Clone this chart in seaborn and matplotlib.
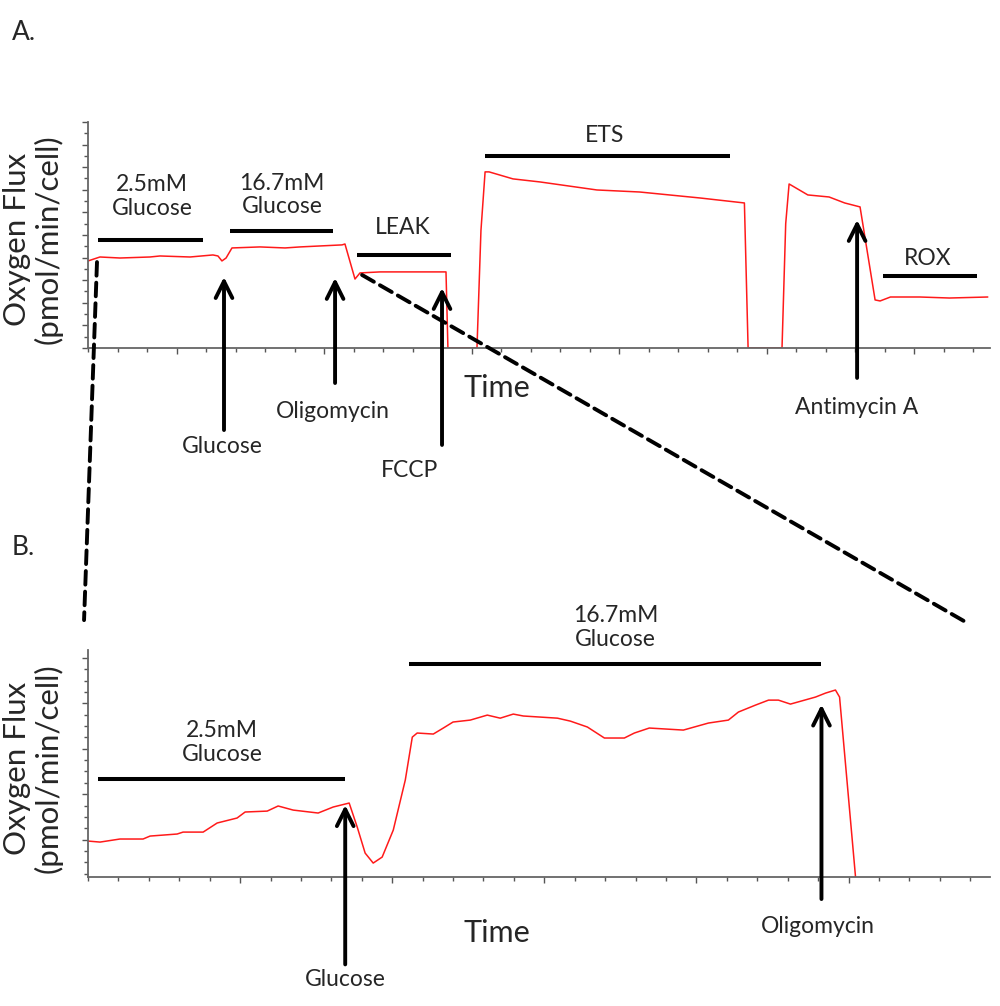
import numpy as np
import pandas as pd
import seaborn as sns
import matplotlib.pyplot as plt
from matplotlib.patches import ConnectionPatch
from matplotlib.ticker import FixedLocator, MultipleLocator

# Panel A trace (time in min, oxygen flux in arbitrary units)
a_time = [0.0, 0.81, 2.17, 4.2, 4.88, 6.92, 8.47, 8.81, 9.08, 9.36, 9.76, 11.66, 13.36,
          14.37, 17.22, 17.42, 18.1, 18.44, 19.8, 22.5, 24.27, 24.4, 26.37, 26.64, 26.92,
          27.19, 28.81, 30.64, 34.5, 37.4, 41.5, 44.5, 44.75, 47.05, 47.3, 47.53, 48.8,
          50.24, 51.3, 52.34, 53.36, 53.7, 54.4, 56.4, 58.4, 61.0]
a_flux = [77, 80.5, 79.6, 80.5, 81.4, 80.5, 82.3, 81.4, 77, 79.6, 88.5, 89.4, 88.5,
          89.4, 91.2, 92, 61, 66.4, 67.3, 67.3, 67.3, 0, 0, 104, 155.8,
          155.8, 149.6, 146.9, 139.8, 138, 132.7, 128.3, 0, 0, 110, 145.1, 135.4,
          133.6, 128.3, 124.8, 42.5, 41.6, 45.1, 45.1, 44.2, 45.1]

# Panel B trace
b_time = [0, 0.79, 2.1, 3.62, 4.08, 5.86, 6.25, 7.57, 8.49, 9.8, 10.33, 11.78, 12.5,
          13.49, 15.13, 16.12, 17.17, 17.7, 18.22, 18.75, 19.34, 20.07, 20.86, 21.32,
          21.64, 22.7, 23.36, 24.0, 25.13, 26.25, 27.1, 27.96, 28.62, 30.86, 31.71,
          32.83, 33.95, 35.26, 35.92, 36.9, 39.14, 40.79, 42.1, 42.76, 43.88, 44.74,
          45.39, 46.18, 47.83, 48.49, 49.14, 49.41, 50.46]
b_flux = [31.7, 30.8, 33.5, 33.5, 36.1, 37.9, 39.6, 39.6, 47.6, 52, 57.3, 58.1, 62.6,
          59, 56.4, 61.7, 65.2, 44, 21.1, 12.3, 17.6, 41.4, 85.5, 123.3,
          126.9, 126, 131.3, 136.6, 138.3, 142.7, 140, 143.6, 141.9, 140, 137.4,
          132.2, 122.5, 122.5, 126.9, 131.3, 129.5, 135.7, 138.3, 145.4, 151.5, 155.9,
          155.9, 152.4, 158.6, 162.1, 164.8, 158.6, 0]

# Condition bars: label, start, end, bar level, label x, label y
a_periods = [("2.5mM\nGlucose", 0.68, 7.8, 95.6, 4.34, 134),
             ("16.7mM\nGlucose", 9.63, 16.61, 103.5, 13.15, 135.4),
             ("LEAK", 18.24, 24.61, 82.3, 21.36, 107),
             ("ETS", 26.92, 43.53, 169.9, 35.05, 187.6),
             ("ROX", 53.9, 60.27, 63.7, 56.95, 79.6)]
b_periods = [("2.5mM\nGlucose", 0.66, 16.9, 86.3, 8.82, 118.5),
             ("16.7mM\nGlucose", 21.12, 48.16, 187.7, 34.67, 219.8)]

# Injections: label, time, arrow tip, arrow tail, label x, label y
a_injections = [("Glucose", 9.22, 62.8, -72.6, 9.08, -87.6),
                ("Oligomycin", 16.75, 62, -31, 16.61, -56.6),
                ("FCCP", 24.0, 53.1, -85.8, 21.83, -108),
                ("Antimycin A", 52.14, 113.3, -26.5, 52.14, -53)]
b_injections = [("Glucose", 16.91, 63.4, -77, 16.91, -90.5),
                ("Oligomycin", 48.22, 152, -19.4, 48.0, -44)]

sns.set_style("white")
plt.rcParams['font.family'] = ['Lato', 'DejaVu Sans']

fig = plt.figure(figsize=(10, 10.06), dpi=100)
axA = fig.add_axes([0.088, 0.6541, 0.902, 0.2247])
axB = fig.add_axes([0.088, 0.1282, 0.902, 0.2256])


def draw_panel(ax, t, f, periods, injections):
    df = pd.DataFrame({"time": t, "flux": f})
    sns.lineplot(data=df, x="time", y="flux", ax=ax, color="#ff1a1a", lw=1.1,
                 estimator=None, sort=False)
    for label, start, end, level, lx, ly in periods:
        ax.hlines(level, start, end, color="black", lw=2.9, clip_on=False)
        ax.text(lx, ly, label, ha="center", va="center", fontsize=16.5,
                linespacing=1.15, clip_on=False)
    for label, x, tip, tail, lx, ly in injections:
        ax.annotate("", xy=(x, tip), xytext=(x, tail), annotation_clip=False,
                    arrowprops=dict(arrowstyle="->", lw=2.8, color="black",
                                    mutation_scale=30, shrinkA=0, shrinkB=0))
        ax.text(lx, ly, label, ha="center", va="center", fontsize=16.5, clip_on=False)
    ax.set_ylim(0, 200)
    for side in ["top", "right"]:
        ax.spines[side].set_visible(False)
    for side in ["left", "bottom"]:
        ax.spines[side].set_color("#666666")
        ax.spines[side].set_linewidth(1.3)
    ax.tick_params(which="both", direction="out", color="#555555", width=1,
                   left=True, bottom=True, labelleft=False, labelbottom=False)
    ax.tick_params(which="major", length=4)
    ax.tick_params(which="minor", length=3)
    ax.set_xlabel("Time", fontsize=22)
    ax.set_ylabel("Oxygen Flux\n(pmol/min/cell)", fontsize=22.5, linespacing=1.1)
    ax.xaxis.set_label_coords(0.453, -0.115)
    ax.yaxis.set_label_coords(-0.028, 0.48)


draw_panel(axA, a_time, a_flux, a_periods, a_injections)
axA.set_xlim(0, 61.15)
axA.xaxis.set_major_locator(FixedLocator(np.arange(6, 61, 10)))
axA.xaxis.set_minor_locator(MultipleLocator(2))
axA.yaxis.set_major_locator(MultipleLocator(20))
axA.yaxis.set_minor_locator(MultipleLocator(10))

draw_panel(axB, b_time, b_flux, b_periods, b_injections)
axB.set_xlim(0, 59.3)
axB.xaxis.set_major_locator(FixedLocator(np.arange(10, 59, 10)))
axB.xaxis.set_minor_locator(MultipleLocator(2))
axB.yaxis.set_major_locator(FixedLocator(np.arange(33, 200, 40)))
axB.yaxis.set_minor_locator(FixedLocator(np.arange(3, 200, 10)))
axB.xaxis.set_label_coords(0.453, -0.185)

# dashed zoom connectors from panel A to panel B
for xa, ya, xb, yb in [(0.61, 76, -0.26, 226.4), (18.58, 64.6, 57.7, 224.7)]:
    con = ConnectionPatch(xyA=(xa, ya), coordsA=axA.transData,
                          xyB=(xb, yb), coordsB=axB.transData,
                          color="black", lw=2.8, linestyle=(0, (3.5, 1.8)))
    fig.add_artist(con)

fig.text(0.012, 0.968, "A.", fontsize=19, va="center")
fig.text(0.012, 0.456, "B.", fontsize=19, va="center")

fig.savefig("out.png", dpi=100)
